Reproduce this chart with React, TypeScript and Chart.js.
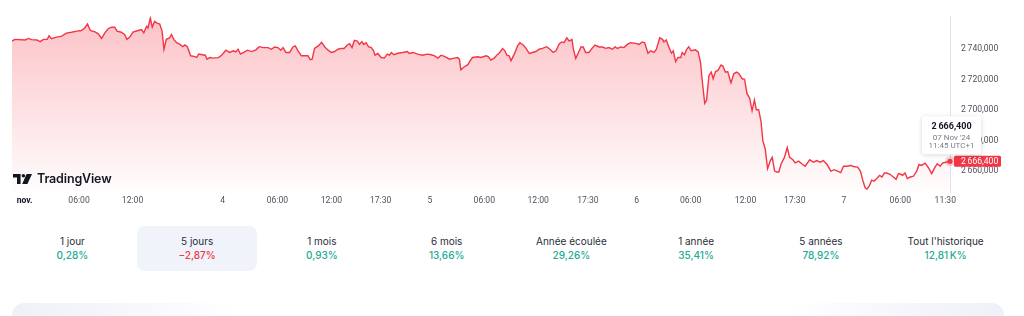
import React, { useEffect, useRef } from "react";
import { Chart, registerables } from "chart.js";

Chart.register(...registerables);

// x = session time in half-hour bars since the first bar shown
const sessionBars: number[] = [
  0, 0.6, 2.8, 3.5, 4.2, 5.3, 6.0, 6.7, 7.5, 7.9,
  8.4, 9.5, 10.6, 11.6, 12.7, 13.8, 14.8, 15.5, 16.1, 16.7,
  17.7, 18.4, 19.1, 19.8, 20.5, 21.2, 21.9, 22.4, 23.3, 24.0,
  24.5, 25.1, 25.8, 26.9, 27.6, 28.1, 28.7, 29.0, 29.5, 29.9,
  30.4, 30.9, 31.5, 32.0, 32.4, 32.9, 33.6, 34.0, 34.5, 35.1,
  35.8, 36.4, 36.9, 37.4, 38.1, 38.8, 39.4, 39.8, 40.6, 41.2,
  41.6, 42.2, 42.9, 44.0, 44.7, 45.6, 46.4, 47.2, 47.7, 48.2,
  48.7, 49.4, 50.2, 51.1, 52.0, 52.7, 53.6, 54.6, 55.3, 56.0,
  56.7, 57.3, 57.8, 58.4, 59.2, 59.9, 60.4, 61.0, 61.7, 62.4,
  63.1, 63.6, 64.0, 64.5, 65.3, 66.0, 66.7, 67.4, 68.1, 68.8,
  69.5, 70.2, 70.8, 71.5, 72.0, 72.5, 73.0, 73.6, 74.1, 74.6,
  75.0, 75.5, 76.0, 76.6, 77.1, 77.4, 78.0, 78.7, 79.4, 80.0,
  80.5, 80.9, 81.4, 82.3, 83.3, 84.3, 84.7, 85.5, 86.5, 87.6,
  88.5, 89.4, 90.1, 90.8, 91.5, 92.3, 93.3, 94.3, 95.0, 95.4,
  95.7, 96.3, 97.2, 97.7, 98.2, 99.3, 100.0, 101.1, 101.6, 102.1,
  102.8, 103.6, 104.0, 104.6, 105.1, 105.5, 106.0, 106.4, 107.1, 107.8,
  108.3, 109.0, 109.6, 110.3, 111.0, 111.7, 112.4, 113.1, 114.0, 114.7,
  115.4, 116.0, 116.7, 117.2, 117.7, 118.3, 118.8, 119.4, 119.7, 120.2,
  120.8, 121.3, 121.8, 122.3, 123.0, 123.8, 124.3, 125.2, 125.9, 126.6,
  127.3, 128.0, 128.6, 129.1, 129.8, 130.5, 131.2, 131.9, 133.0, 133.7,
  134.4, 134.9, 135.6, 136.2, 136.9, 137.4, 138.1, 138.7, 139.0, 139.5,
  140.1, 140.6, 141.0, 141.5, 142.0, 142.6, 142.9, 143.4, 143.8, 144.3,
  144.8, 145.7, 146.3, 146.8, 147.2, 147.7, 148.1, 148.6, 149.1, 149.5,
  150.0, 150.5, 151.2, 151.6, 152.1, 152.6, 153.3, 153.9, 154.5, 155.0,
  155.7, 156.2, 156.7, 157.3, 157.8, 158.3, 158.7, 159.2, 159.7, 160.1,
  160.6, 161.1, 161.7, 162.1, 162.6, 163.1, 163.5, 164.0, 164.7, 165.3,
  165.8, 166.5, 167.0, 167.7, 168.4, 169.1, 170.1, 170.9, 171.6, 172.3,
  173.0, 173.8, 174.6, 175.3, 176.0, 176.7, 177.3, 178.0, 178.9, 179.4,
  180.3, 180.9, 181.4, 181.9, 182.3, 182.8, 183.3, 183.8, 184.4, 185.0,
  185.5, 186.0, 186.5, 187.2, 187.9, 188.5, 189.0, 189.5, 189.9, 190.4,
  190.9, 191.5, 192.2, 192.9, 193.4, 193.9, 194.7, 195.4, 196.1, 196.8,
  197.3, 197.9, 198.4, 199.1, 200.0,
];

const prices: number[] = [
  2745.4, 2746.5, 2746.1, 2747.1, 2746.3, 2746.1, 2745.0, 2746.5, 2746.5, 2748.8,
  2746.9, 2748.0, 2748.6, 2750.6, 2751.2, 2751.9, 2752.3, 2754.0, 2756.6, 2752.3,
  2751.4, 2750.1, 2747.1, 2750.8, 2753.5, 2754.5, 2754.5, 2751.9, 2751.2, 2749.7,
  2746.5, 2748.0, 2751.2, 2752.3, 2752.9, 2750.8, 2755.1, 2754.0, 2760.5, 2754.5,
  2758.3, 2757.2, 2756.6, 2751.9, 2740.0, 2746.5, 2747.5, 2749.7, 2746.5, 2744.3,
  2743.2, 2741.7, 2742.8, 2741.5, 2735.7, 2735.3, 2734.6, 2736.8, 2736.4, 2736.1,
  2733.5, 2734.6, 2734.2, 2734.5, 2736.1, 2739.4, 2737.9, 2739.0, 2738.3, 2740.0,
  2736.8, 2737.9, 2739.4, 2738.5, 2739.6, 2741.7, 2741.1, 2741.1, 2740.0, 2741.5,
  2741.1, 2739.4, 2741.1, 2737.9, 2737.9, 2741.5, 2742.2, 2739.0, 2735.7, 2735.7,
  2735.7, 2733.2, 2733.5, 2740.5, 2742.2, 2744.5, 2741.5, 2739.4, 2737.9, 2738.5,
  2740.0, 2740.6, 2740.5, 2742.8, 2743.7, 2741.1, 2745.8, 2745.4, 2743.2, 2745.0,
  2743.2, 2744.3, 2741.7, 2741.1, 2739.0, 2736.1, 2737.2, 2734.6, 2734.2, 2736.8,
  2736.1, 2737.9, 2736.4, 2737.4, 2737.9, 2738.5, 2737.2, 2737.9, 2736.8, 2736.1,
  2736.8, 2736.4, 2735.7, 2734.2, 2736.1, 2735.1, 2733.5, 2734.2, 2734.6, 2733.5,
  2726.5, 2728.2, 2729.9, 2732.5, 2734.6, 2735.1, 2734.6, 2735.7, 2735.1, 2732.9,
  2734.2, 2736.8, 2737.9, 2740.5, 2739.0, 2736.1, 2735.7, 2732.5, 2736.8, 2742.2,
  2744.3, 2742.8, 2740.6, 2737.2, 2737.9, 2738.5, 2740.0, 2740.6, 2741.7, 2740.0,
  2737.9, 2739.0, 2743.7, 2744.8, 2744.3, 2747.5, 2745.4, 2746.5, 2740.0, 2734.0,
  2737.9, 2741.5, 2741.5, 2737.9, 2737.9, 2741.1, 2742.8, 2741.5, 2741.5, 2740.6,
  2741.1, 2740.0, 2741.5, 2740.5, 2741.5, 2741.1, 2743.2, 2744.3, 2743.9, 2743.2,
  2744.8, 2744.3, 2737.4, 2739.0, 2737.9, 2740.0, 2747.5, 2746.5, 2744.8, 2746.1,
  2741.1, 2737.4, 2739.0, 2731.9, 2734.6, 2734.6, 2737.9, 2736.4, 2739.6, 2741.7,
  2739.0, 2739.6, 2738.3, 2731.4, 2718.5, 2704.5, 2706.7, 2722.8, 2725.0, 2720.6,
  2725.4, 2726.1, 2729.7, 2728.8, 2725.0, 2725.4, 2717.9, 2723.9, 2725.0, 2723.9,
  2720.6, 2720.3, 2711.0, 2707.7, 2699.6, 2706.7, 2700.3, 2700.3, 2692.7, 2679.8,
  2674.5, 2661.6, 2666.9, 2669.0, 2660.0, 2659.4, 2659.4, 2664.8, 2669.0, 2675.5,
  2669.0, 2667.4, 2665.4, 2666.5, 2664.8, 2663.2, 2667.4, 2665.8, 2666.9, 2665.8,
  2666.9, 2664.3, 2660.0, 2660.9, 2660.0, 2659.0, 2663.2, 2663.2, 2663.7, 2663.0,
  2662.6, 2660.0, 2654.0, 2649.0, 2648.2, 2650.3, 2654.0, 2653.4, 2655.1, 2657.2,
  2656.1, 2658.7, 2658.7, 2657.9, 2656.1, 2654.6, 2658.3, 2657.9, 2657.2, 2658.7,
  2655.1, 2656.1, 2656.6, 2660.0, 2664.3, 2663.7, 2665.2, 2662.2, 2658.3, 2662.6,
  2664.8, 2663.2, 2665.2, 2665.8, 2666.4,
];

const timeTickBars: number[] = [2.7, 14.3, 25.7, 44.9, 56.6, 68.1, 78.6, 89.1, 100.7, 112.2, 122.8, 133.2, 144.7, 156.4, 166.9, 177.4, 189.4, 199.0];
const timeTickLabels: string[] = ["nov.", "06:00", "12:00", "4", "06:00", "12:00", "17:30", "5", "06:00", "12:00", "17:30", "6", "06:00", "12:00", "17:30", "7", "06:00", "11:30"];
const priceTicks: number[] = [2660, 2680, 2700, 2720, 2740];
const priceMin = 2646.26;
const priceMax = 2761.74;

const lastDateLabel = "07 Nov '24";
const lastTimeLabel = "11:45 UTC+1";

const periodLabels: string[] = ["1 jour", "5 jours", "1 mois", "6 mois", "Année écoulée", "1 année", "5 années", "Tout l'historique"];
const periodChanges: string[] = ["0,28%", "\u22122,87%", "0,93%", "13,66%", "29,26%", "35,41%", "78,92%", "12,81\u2009K%"];
const selectedPeriod = 1;

const RED = "#f23645";
const GREEN = "#22ab94";
const FONT = "Inter, 'Noto Sans', sans-serif";
const AXIS_FONT = "Roboto, 'Liberation Sans', sans-serif";
const AXIS_SIZE = 8.6;

function formatPrice(v: number): string {
  const [i, d] = v.toFixed(3).split(".");
  return i.replace(/\B(?=(\d{3})+(?!\d))/g, "\u2009") + "," + d;
}

function roundRect(ctx: CanvasRenderingContext2D, x: number, y: number, w: number, h: number, r: number) {
  ctx.beginPath();
  ctx.moveTo(x + r, y);
  ctx.lineTo(x + w - r, y);
  ctx.quadraticCurveTo(x + w, y, x + w, y + r);
  ctx.lineTo(x + w, y + h - r);
  ctx.quadraticCurveTo(x + w, y + h, x + w - r, y + h);
  ctx.lineTo(x + r, y + h);
  ctx.quadraticCurveTo(x, y + h, x, y + h - r);
  ctx.lineTo(x, y + r);
  ctx.quadraticCurveTo(x, y, x + r, y);
  ctx.closePath();
}

const lastPointPlugin = {
  id: "lastPoint",
  afterDraw(chart: any) {
    const meta = chart.getDatasetMeta(0);
    const pt = meta.data[meta.data.length - 1];
    if (!pt) return;
    const { ctx, chartArea } = chart;
    const lastValue = prices[prices.length - 1];
    const x = pt.x;
    const y = pt.y;
    ctx.save();
    // point with halo
    ctx.beginPath();
    ctx.arc(x, y, 5, 0, Math.PI * 2);
    ctx.fillStyle = "rgba(242,54,69,0.22)";
    ctx.fill();
    ctx.beginPath();
    ctx.arc(x, y, 2.6, 0, Math.PI * 2);
    ctx.fillStyle = RED;
    ctx.fill();

    // price tag on the axis
    ctx.fillStyle = RED;
    roundRect(ctx, chartArea.right + 4, y - 5.5, 47, 11, 1.5);
    ctx.fill();
    ctx.fillStyle = "#ffffff";
    ctx.font = `${AXIS_SIZE}px ${AXIS_FONT}`;
    ctx.textAlign = "left";
    ctx.textBaseline = "middle";
    ctx.fillText(formatPrice(lastValue), chartArea.right + 11, y + 0.5);

    // info box
    const bx = x - 28;
    const by = y - 45;
    const bw = 59;
    const bh = 38;
    ctx.save();
    ctx.shadowColor = "rgba(0,0,0,0.16)";
    ctx.shadowBlur = 5;
    ctx.shadowOffsetY = 1;
    ctx.fillStyle = "#ffffff";
    roundRect(ctx, bx, by, bw, bh, 3);
    ctx.fill();
    ctx.restore();
    ctx.textAlign = "center";
    ctx.textBaseline = "middle";
    ctx.fillStyle = "#131722";
    ctx.font = `bold 9px ${AXIS_FONT}`;
    ctx.fillText(formatPrice(lastValue), bx + bw / 2, by + 10);
    ctx.fillStyle = "#787b86";
    ctx.font = `8px ${AXIS_FONT}`;
    ctx.fillText(lastDateLabel, bx + bw / 2, by + 21.5);
    ctx.fillText(lastTimeLabel, bx + bw / 2, by + 30);
    ctx.restore();
  },
};

function PriceChart() {
  const ref = useRef<HTMLCanvasElement | null>(null);
  useEffect(() => {
    if (!ref.current) return;
    const chart = new Chart(ref.current, {
      type: "line",
      data: {
        datasets: [
          {
            data: sessionBars.map((t, i) => ({ x: t, y: prices[i] })),
            borderColor: RED,
            borderWidth: 1.4,
            pointRadius: 0,
            tension: 0,
            fill: "start",
            backgroundColor: (c: any) => {
              const { chart } = c;
              const area = chart.chartArea;
              if (!area) return "rgba(242,54,69,0.15)";
              const g = chart.ctx.createLinearGradient(0, area.top, 0, area.bottom);
              g.addColorStop(0, "rgba(242,54,69,0.30)");
              g.addColorStop(1, "rgba(242,54,69,0.01)");
              return g;
            },
          },
        ],
      },
      options: {
        animation: false,
        responsive: false,
        devicePixelRatio: 1,
        layout: { padding: { left: 12, top: 13, right: 0, bottom: 0 } },
        plugins: { legend: { display: false }, tooltip: { enabled: false } },
        scales: {
          x: {
            type: "linear",
            min: 0,
            max: 200,
            grid: { display: false, drawTicks: false },
            border: { display: false },
            afterBuildTicks: (s: any) => {
              s.ticks = timeTickBars.map((v) => ({ value: v }));
            },
            afterFit: (s: any) => {
              s.height = 22;
            },
            ticks: {
              autoSkip: false,
              maxRotation: 0,
              padding: 4,
              callback: (_v: any, i: number) => timeTickLabels[i],
              font: (c: any) => ({
                family: AXIS_FONT,
                size: AXIS_SIZE,
                weight: c.index === 0 ? "bold" : "normal",
              }),
              color: (c: any) => (c.index === 0 ? "#131722" : "#50535e"),
            },
          },
          y: {
            position: "right",
            min: priceMin,
            max: priceMax,
            grid: { display: false, drawTicks: false },
            border: { display: true, color: "#e0e3eb", width: 1 },
            afterBuildTicks: (s: any) => {
              s.ticks = priceTicks.map((v) => ({ value: v }));
            },
            afterFit: (s: any) => {
              s.width = 74;
            },
            ticks: {
              padding: 11,
              callback: (v: any) => formatPrice(Number(v)),
              font: { family: AXIS_FONT, size: AXIS_SIZE },
              color: "#50535e",
            },
          },
        },
      } as any,
      plugins: [lastPointPlugin],
    });
    return () => chart.destroy();
  }, []);
  return <canvas ref={ref} width={1024} height={214} style={{ position: "absolute", left: 0, top: 0 }} />;
}

function Logo() {
  return (
    <div style={{ position: "absolute", left: 13, top: 171, display: "flex", alignItems: "center", gap: 5, pointerEvents: "none" }}>
      <svg width="19" height="10" viewBox="0 0 19 10">
        <path d="M0 0 H7.6 V10 H4 V3.6 H0 Z" fill="#131722" />
        <circle cx="10.4" cy="1.8" r="1.8" fill="#131722" />
        <path d="M13.6 0 H19 L14.4 10 H9.2 Z" fill="#131722" />
      </svg>
      <span style={{ fontFamily: FONT, fontWeight: 600, fontSize: 12.5, color: "#131722", lineHeight: "16px", letterSpacing: -0.15 }}>TradingView</span>
    </div>
  );
}

function Periods() {
  return (
    <div style={{ position: "absolute", left: 10, top: 226, width: 998, display: "flex", fontFamily: FONT }}>
      {periodLabels.map((label, i) => {
        const change = periodChanges[i];
        const neg = change.startsWith("\u2212");
        return (
          <div key={label} style={{ flex: "1 1 0", padding: "0 2.5px", boxSizing: "border-box" }}>
            <div
              style={{
                height: 45,
                borderRadius: 8,
                background: i === selectedPeriod ? "#f0f3fa" : "transparent",
                display: "flex",
                flexDirection: "column",
                alignItems: "center",
                justifyContent: "center",
                gap: 1,
              }}
            >
              <div style={{ fontSize: 10, lineHeight: "13px", color: "#2a2e39" }}>{label}</div>
              <div style={{ fontSize: 10, lineHeight: "13px", fontWeight: 500, color: neg ? RED : GREEN }}>{change}</div>
            </div>
          </div>
        );
      })}
    </div>
  );
}

export default function App() {
  return (
    <div style={{ position: "absolute", left: 0, top: 0, width: 1024, height: 316, overflow: "hidden", background: "#ffffff" }}>
      <PriceChart />
      <Logo />
      <Periods />
      <div style={{ position: "absolute", left: 12, top: 303, width: 230, height: 40, borderRadius: 12, background: "linear-gradient(90deg, #eef1f8 0%, #f4f6fb 40%, #ffffff 100%)" }} />
      <div style={{ position: "absolute", left: 785, top: 303, width: 219, height: 40, borderRadius: 12, background: "linear-gradient(90deg, #ffffff 0%, #f4f6fb 60%, #eef1f8 100%)" }} />
    </div>
  );
}
